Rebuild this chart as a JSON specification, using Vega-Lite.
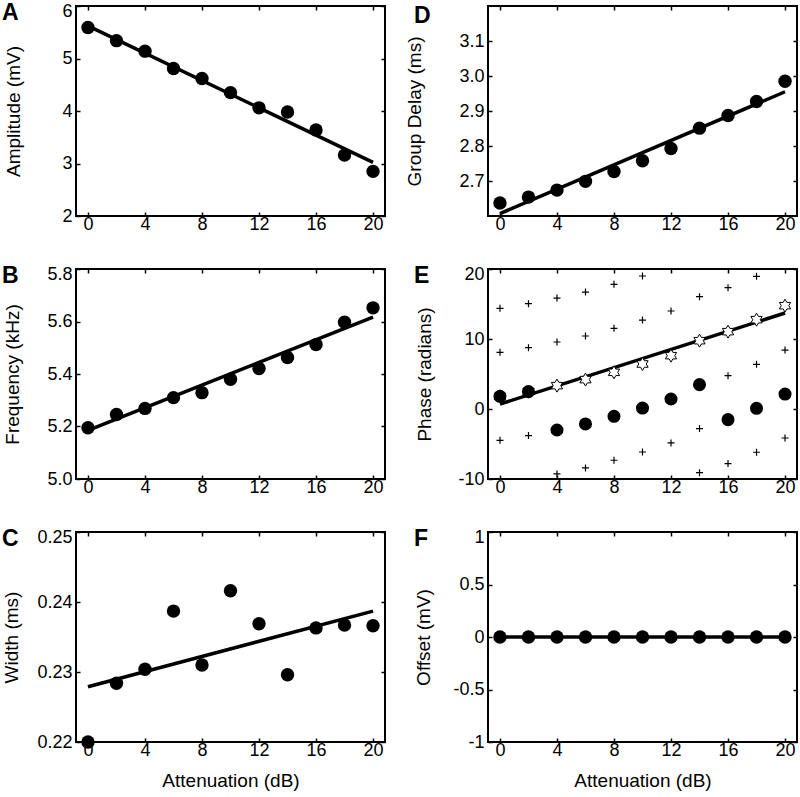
{
  "$schema": "https://vega.github.io/schema/vega-lite/v6.json",
  "background": "white",
  "padding": {"left": 1, "top": 1, "right": 0, "bottom": 0},
  "columns": 2,
  "spacing": {"column": 103, "row": 53},
  "bounds": "flush",
  "config": {
    "view": {"stroke": "black", "strokeWidth": 2},
    "font": "Liberation Sans",
    "axis": {
      "labelFont": "Liberation Sans", "labelFontSize": 18, "labelColor": "black",
      "titleFont": "Liberation Sans", "titleFontSize": 19, "titleFontWeight": "normal", "titleColor": "black",
      "domain": false, "grid": false, "tickColor": "black", "tickSize": -4, "tickWidth": 1.5,
      "labelFlush": false, "labelOverlap": false
    },
    "axisX": {"labelPadding": 3},
    "axisY": {"labelPadding": 8},
    "title": {"font": "Liberation Sans", "fontSize": 23, "fontWeight": "bold", "color": "black", "anchor": "start", "frame": "group", "offset": 0, "baseline": "top", "dx": -74, "dy": 27}
  },
  "concat": [
    {
      "title": {"text": "A"},
      "width": 309, "height": 210,
      "layer": [
        {
          "data": {"values": [{"a": 0, "v": 5.62}, {"a": 20, "v": 3.02}]},
          "mark": {"type": "line", "color": "black", "strokeWidth": 3.5},
          "encoding": {
            "x": {"field": "a", "type": "quantitative", "scale": {"domain": [-0.84, 20.84], "nice": false, "zero": false}, "axis": {"values": [0, 4, 8, 12, 16, 20], "format": "d", "title": null}},
            "y": {"field": "v", "type": "quantitative", "scale": {"domain": [2, 6], "nice": false, "zero": false}, "axis": {"values": [2, 3, 4, 5, 6], "format": "d", "labelOffset": {"condition": {"test": "datum.value >= 5.99", "value": 5}, "value": 0}, "title": "Amplitude (mV)", "titleX": -63, "titleY": 105, "titleBaseline": "middle", "titleAngle": -90, "titleAlign": "center"}}
          }
        },
        {
          "data": {"values": [{"a": 0, "v": 5.59}, {"a": 2, "v": 5.34}, {"a": 4, "v": 5.14}, {"a": 6, "v": 4.81}, {"a": 8, "v": 4.62}, {"a": 10, "v": 4.35}, {"a": 12, "v": 4.06}, {"a": 14, "v": 3.98}, {"a": 16, "v": 3.64}, {"a": 18, "v": 3.16}, {"a": 20, "v": 2.85}]},
          "mark": {"type": "circle", "size": 180, "color": "black", "opacity": 1},
          "encoding": {
            "x": {"field": "a", "type": "quantitative", "axis": {"orient": "top", "values": [0, 4, 8, 12, 16, 20], "labels": false, "title": null}},
            "y": {"field": "v", "type": "quantitative", "axis": {"orient": "right", "values": [2, 3, 4, 5, 6], "labels": false, "title": null}}
          }
        }
      ],
      "resolve": {"axis": {"x": "independent", "y": "independent"}}
    },
    {
      "title": {"text": "D"},
      "width": 309, "height": 210,
      "layer": [
        {
          "data": {"values": [{"a": 0, "v": 2.607}, {"a": 20, "v": 2.955}]},
          "mark": {"type": "line", "color": "black", "strokeWidth": 3.5},
          "encoding": {
            "x": {"field": "a", "type": "quantitative", "scale": {"domain": [-0.84, 20.84], "nice": false, "zero": false}, "axis": {"values": [0, 4, 8, 12, 16, 20], "format": "d", "title": null}},
            "y": {"field": "v", "type": "quantitative", "scale": {"domain": [2.6, 3.2], "nice": false, "zero": false}, "axis": {"values": [2.7, 2.8, 2.9, 3.0, 3.1], "format": ".1f", "title": "Group Delay (ms)", "titleX": -74, "titleY": 105, "titleBaseline": "middle", "titleAngle": -90, "titleAlign": "center"}}
          }
        },
        {
          "data": {"values": [{"a": 0, "v": 2.637}, {"a": 2, "v": 2.654}, {"a": 4, "v": 2.674}, {"a": 6, "v": 2.699}, {"a": 8, "v": 2.727}, {"a": 10, "v": 2.758}, {"a": 12, "v": 2.793}, {"a": 14, "v": 2.851}, {"a": 16, "v": 2.887}, {"a": 18, "v": 2.927}, {"a": 20, "v": 2.985}]},
          "mark": {"type": "circle", "size": 180, "color": "black", "opacity": 1},
          "encoding": {
            "x": {"field": "a", "type": "quantitative", "axis": {"orient": "top", "values": [0, 4, 8, 12, 16, 20], "labels": false, "title": null}},
            "y": {"field": "v", "type": "quantitative", "axis": {"orient": "right", "values": [2.7, 2.8, 2.9, 3.0, 3.1], "labels": false, "title": null}}
          }
        }
      ],
      "resolve": {"axis": {"x": "independent", "y": "independent"}}
    },
    {
      "title": {"text": "B"},
      "width": 309, "height": 210,
      "layer": [
        {
          "data": {"values": [{"a": 0, "v": 5.185}, {"a": 20, "v": 5.617}]},
          "mark": {"type": "line", "color": "black", "strokeWidth": 3.5},
          "encoding": {
            "x": {"field": "a", "type": "quantitative", "scale": {"domain": [-0.84, 20.84], "nice": false, "zero": false}, "axis": {"values": [0, 4, 8, 12, 16, 20], "format": "d", "title": null}},
            "y": {"field": "v", "type": "quantitative", "scale": {"domain": [5.0, 5.8], "nice": false, "zero": false}, "axis": {"values": [5.0, 5.2, 5.4, 5.6, 5.8], "format": ".1f", "labelOffset": {"condition": {"test": "datum.value >= 5.79", "value": 5}, "value": 0}, "title": "Frequency (kHz)", "titleX": -64, "titleY": 105, "titleBaseline": "middle", "titleAngle": -90, "titleAlign": "center"}}
          }
        },
        {
          "data": {"values": [{"a": 0, "v": 5.195}, {"a": 2, "v": 5.246}, {"a": 4, "v": 5.269}, {"a": 6, "v": 5.31}, {"a": 8, "v": 5.329}, {"a": 10, "v": 5.38}, {"a": 12, "v": 5.421}, {"a": 14, "v": 5.463}, {"a": 16, "v": 5.512}, {"a": 18, "v": 5.597}, {"a": 20, "v": 5.652}]},
          "mark": {"type": "circle", "size": 180, "color": "black", "opacity": 1},
          "encoding": {
            "x": {"field": "a", "type": "quantitative", "axis": {"orient": "top", "values": [0, 4, 8, 12, 16, 20], "labels": false, "title": null}},
            "y": {"field": "v", "type": "quantitative", "axis": {"orient": "right", "values": [5.0, 5.2, 5.4, 5.6, 5.8], "labels": false, "title": null}}
          }
        }
      ],
      "resolve": {"axis": {"x": "independent", "y": "independent"}}
    },
    {
      "title": {"text": "E"},
      "width": 309, "height": 210,
      "layer": [
        {
          "data": {"values": [{"a": 0, "v": 0.71}, {"a": 20, "v": 13.71}]},
          "mark": {"type": "line", "color": "black", "strokeWidth": 3.5},
          "encoding": {
            "x": {"field": "a", "type": "quantitative", "scale": {"domain": [-0.84, 20.84], "nice": false, "zero": false}, "axis": {"values": [0, 4, 8, 12, 16, 20], "format": "d", "title": null}},
            "y": {"field": "v", "type": "quantitative", "scale": {"domain": [-10, 20], "nice": false, "zero": false}, "axis": {"values": [-10, 0, 10, 20], "labelExpr": "'' + datum.value", "labelOffset": {"condition": {"test": "datum.value >= 19.9", "value": 5}, "value": 0}, "title": "Phase (radians)", "titleX": -64, "titleY": 105, "titleBaseline": "middle", "titleAngle": -90, "titleAlign": "center"}}
          }
        },
        {
          "data": {"values": [
            {"a": 0, "v": -4.47}, {"a": 0, "v": 8.09}, {"a": 0, "v": 14.38},
            {"a": 2, "v": -3.8}, {"a": 2, "v": 8.76}, {"a": 2, "v": 15.05},
            {"a": 4, "v": -9.28}, {"a": 4, "v": 9.57}, {"a": 4, "v": 15.85},
            {"a": 6, "v": -8.42}, {"a": 6, "v": 10.43}, {"a": 6, "v": 16.71},
            {"a": 8, "v": -7.32}, {"a": 8, "v": 11.53}, {"a": 8, "v": 17.81},
            {"a": 10, "v": -6.14}, {"a": 10, "v": 12.71}, {"a": 10, "v": 19.0},
            {"a": 12, "v": -4.85}, {"a": 12, "v": 14.0},
            {"a": 14, "v": -9.09}, {"a": 14, "v": -2.8}, {"a": 14, "v": 16.05},
            {"a": 16, "v": -7.8}, {"a": 16, "v": 4.76}, {"a": 16, "v": 17.33},
            {"a": 18, "v": -6.18}, {"a": 18, "v": 6.38}, {"a": 18, "v": 18.95},
            {"a": 20, "v": -4.14}, {"a": 20, "v": 8.42}
          ]},
          "mark": {"type": "point", "shape": "M-1,0H1M0,-1V1", "size": 49, "filled": false, "color": "black", "strokeWidth": 1.2, "opacity": 1},
          "encoding": {
            "x": {"field": "a", "type": "quantitative", "axis": {"orient": "top", "values": [0, 4, 8, 12, 16, 20], "labels": false, "title": null}},
            "y": {"field": "v", "type": "quantitative", "axis": {"orient": "right", "values": [-10, 0, 10, 20], "labels": false, "title": null}}
          }
        },
        {
          "data": {"values": [{"a": 0, "v": 1.81}, {"a": 2, "v": 2.48}, {"a": 4, "v": 3.34}, {"a": 6, "v": 4.2}, {"a": 8, "v": 5.24}, {"a": 10, "v": 6.43}, {"a": 12, "v": 7.62}, {"a": 14, "v": 9.76}, {"a": 16, "v": 11.05}, {"a": 18, "v": 12.76}, {"a": 20, "v": 14.76}]},
          "mark": {"type": "point", "shape": "M0,-1L0.289,-0.5L0.866,-0.5L0.577,0L0.866,0.5L0.289,0.5L0,1L-0.289,0.5L-0.866,0.5L-0.577,0L-0.866,-0.5L-0.289,-0.5Z", "size": 169, "filled": true, "fill": "white", "stroke": "black", "strokeWidth": 1, "opacity": 1},
          "encoding": {
            "x": {"field": "a", "type": "quantitative", "axis": null},
            "y": {"field": "v", "type": "quantitative", "axis": null}
          }
        },
        {
          "data": {"values": [{"a": 0, "v": 1.81}, {"a": 2, "v": 2.48}, {"a": 4, "v": -3.0}, {"a": 6, "v": -2.14}, {"a": 8, "v": -1.04}, {"a": 10, "v": 0.14}, {"a": 12, "v": 1.43}, {"a": 14, "v": 3.48}, {"a": 16, "v": -1.52}, {"a": 18, "v": 0.1}, {"a": 20, "v": 2.14}]},
          "mark": {"type": "circle", "size": 170, "color": "black", "opacity": 1},
          "encoding": {
            "x": {"field": "a", "type": "quantitative", "axis": null},
            "y": {"field": "v", "type": "quantitative", "axis": null}
          }
        }
      ],
      "resolve": {"axis": {"x": "independent", "y": "independent"}}
    },
    {
      "title": {"text": "C"},
      "width": 309, "height": 210,
      "layer": [
        {
          "data": {"values": [{"a": 0, "v": 0.2279}, {"a": 20, "v": 0.2387}]},
          "mark": {"type": "line", "color": "black", "strokeWidth": 3.5},
          "encoding": {
            "x": {"field": "a", "type": "quantitative", "scale": {"domain": [-0.84, 20.84], "nice": false, "zero": false}, "axis": {"values": [0, 4, 8, 12, 16, 20], "format": "d", "title": "Attenuation (dB)", "titleBaseline": "top", "titleY": 29}},
            "y": {"field": "v", "type": "quantitative", "scale": {"domain": [0.22, 0.25], "nice": false, "zero": false}, "axis": {"values": [0.22, 0.23, 0.24, 0.25], "format": ".2f", "labelOffset": {"condition": {"test": "datum.value >= 0.2499", "value": 5}, "value": 0}, "title": "Width (ms)", "titleX": -65, "titleY": 105, "titleBaseline": "middle", "titleAngle": -90, "titleAlign": "center"}}
          }
        },
        {
          "data": {"values": [{"a": 0, "v": 0.22}, {"a": 2, "v": 0.2284}, {"a": 4, "v": 0.2304}, {"a": 6, "v": 0.2387}, {"a": 8, "v": 0.231}, {"a": 10, "v": 0.2416}, {"a": 12, "v": 0.2369}, {"a": 14, "v": 0.2296}, {"a": 16, "v": 0.2363}, {"a": 18, "v": 0.2367}, {"a": 20, "v": 0.2366}]},
          "mark": {"type": "circle", "size": 180, "color": "black", "opacity": 1, "clip": false},
          "encoding": {
            "x": {"field": "a", "type": "quantitative", "axis": {"orient": "top", "values": [0, 4, 8, 12, 16, 20], "labels": false, "title": null}},
            "y": {"field": "v", "type": "quantitative", "axis": {"orient": "right", "values": [0.22, 0.23, 0.24, 0.25], "labels": false, "title": null}}
          }
        }
      ],
      "resolve": {"axis": {"x": "independent", "y": "independent"}}
    },
    {
      "title": {"text": "F"},
      "width": 309, "height": 210,
      "layer": [
        {
          "data": {"values": [{"a": 0, "v": 0}, {"a": 20, "v": 0}]},
          "mark": {"type": "line", "color": "black", "strokeWidth": 3.5},
          "encoding": {
            "x": {"field": "a", "type": "quantitative", "scale": {"domain": [-0.84, 20.84], "nice": false, "zero": false}, "axis": {"values": [0, 4, 8, 12, 16, 20], "format": "d", "title": "Attenuation (dB)", "titleBaseline": "top", "titleY": 29}},
            "y": {"field": "v", "type": "quantitative", "scale": {"domain": [-1, 1], "nice": false, "zero": false}, "axis": {"values": [-1, -0.5, 0, 0.5, 1], "labelExpr": "'' + datum.value", "labelOffset": {"condition": {"test": "datum.value >= 0.99", "value": 5}, "value": 0}, "title": "Offset (mV)", "titleX": -65, "titleY": 105, "titleBaseline": "middle", "titleAngle": -90, "titleAlign": "center"}}
          }
        },
        {
          "data": {"values": [{"a": 0, "v": 0}, {"a": 2, "v": 0}, {"a": 4, "v": 0}, {"a": 6, "v": 0}, {"a": 8, "v": 0}, {"a": 10, "v": 0}, {"a": 12, "v": 0}, {"a": 14, "v": 0}, {"a": 16, "v": 0}, {"a": 18, "v": 0}, {"a": 20, "v": 0}]},
          "mark": {"type": "circle", "size": 180, "color": "black", "opacity": 1},
          "encoding": {
            "x": {"field": "a", "type": "quantitative", "axis": {"orient": "top", "values": [0, 4, 8, 12, 16, 20], "labels": false, "title": null}},
            "y": {"field": "v", "type": "quantitative", "axis": {"orient": "right", "values": [-1, -0.5, 0, 0.5, 1], "labels": false, "title": null}}
          }
        }
      ],
      "resolve": {"axis": {"x": "independent", "y": "independent"}}
    }
  ]
}
